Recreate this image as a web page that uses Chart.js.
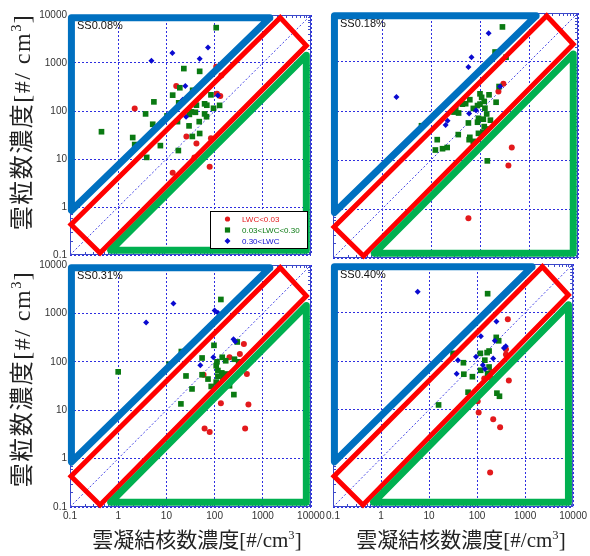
<!DOCTYPE html>
<html>
<head>
<meta charset="utf-8">
<script src="https://cdn.jsdelivr.net/npm/chart.js@4.4.1/dist/chart.umd.min.js"></script>
<style>
body { margin: 0; background: #fff; width: 590px; height: 556px; position: relative; overflow: hidden; }
canvas { position: absolute; }
.yt, .xt { position: absolute; white-space: nowrap; color: #222; font-family: "Liberation Serif", "Noto Sans CJK JP", serif; }
.yt { font-size: 24px; letter-spacing: 1.5px; transform: translate(-50%, -50%) rotate(-90deg); }
.xt { font-size: 21px; transform: translate(-50%, -50%); }
sup { font-size: 0.6em; }
</style>
</head>
<body>
<canvas id="c1"></canvas>
<canvas id="c2"></canvas>
<canvas id="c3"></canvas>
<canvas id="c4"></canvas>
<div class="yt" style="left:19px;top:122px">雲粒数濃度[#/ cm<sup>3</sup>]</div>
<div class="yt" style="left:19px;top:379px">雲粒数濃度[#/ cm<sup>3</sup>]</div>
<div class="xt" style="left:197px;top:538px">雲凝結核数濃度[#/cm<sup>3</sup>]</div>
<div class="xt" style="left:461px;top:538px">雲凝結核数濃度[#/cm<sup>3</sup>]</div>
<script>
const tickValues = [0.1, 1, 10, 100, 1000, 10000];
const tickLabels = ['0.1', '1', '10', '100', '1000', '10000'];
const panelLabels = ['SS0.08%', 'SS0.18%', 'SS0.31%', 'SS0.40%'];
const legendLabels = ['LWC<0.03', '0.03<LWC<0.30', '0.30<LWC'];

// [CCN, cloud droplets] per panel and LWC class
const ss008Red = [[2.2,113],[16,330],[108,840],[138,550],[112,229],[131,205],[26,29.5],[42,21],[84,27],[38,10.7],[13.5,5.2],[79,6.9]];
const ss008Green = [[108,5450],[23,765],[49,670],[19,305],[13.5,214],[35,270],[5.5,155],[18,148],[42,132],[62,141],[69,132],[84,217],[127,131],[95,114],[3.7,87],[10.3,79],[33,96],[40,94],[30,85],[62,87],[68,76],[17,60],[48,60],[5.2,53],[29.5,49],[49,34],[34.5,29.5],[2.0,28],[2.2,20],[7.5,19],[17.7,15],[3.9,10.8],[0.45,37]];
const ss008Blue = [[4.9,1120],[13.3,1610],[49,1230],[73,2100],[24.7,331],[21.8,171],[25.6,76],[117,210]];

const ss018Red = [[300,360],[238,251],[445,18],[380,7.7],[58,0.65]];
const ss018Green = [[287,5200],[203,1600],[340,1250],[245,316],[100,224],[153,214],[108,190],[122,157],[62,170],[51,141],[43.6,138],[73,113],[89,129],[100,138],[126,114],[213,151],[32,109],[36.6,91],[29.4,95],[137,87],[93,71],[89,59],[117,68],[163,65],[58,57],[122,48],[137,43],[117,37],[93,35],[36,33],[62,29],[60,26],[73,24],[13.4,26],[12.3,16],[17.2,17],[21.4,18],[141,9.6],[6.4,50]];
const ss018Blue = [[150,3850],[67,1250],[58,790],[1.97,192],[257,316],[60,89],[83,103],[21.8,63],[19.9,52]];

const ss031Red = [[405,234],[334,145],[204,124],[467,56],[503,13.1],[135,14],[62,4.2],[79,3.55],[430,4.2],[59,54]];
const ss031Green = [[135,1940],[1.0,62],[97,219],[295,257],[20.4,163],[11.4,89],[55,120],[112,100],[144,124],[170,105],[258,113],[316,100],[108,83],[117,66],[141,59],[174,56],[149,48],[117,50],[25.5,51],[55,54],[73,44],[108,38],[85,31],[34,27.5],[251,21],[20,13.5],[204,32]];
const ss031Blue = [[14,1600],[3.8,645],[100,1150],[117,1030],[247,294],[268,264],[94,124],[50.5,85]];

const ss040Red = [[437,730],[400,177],[400,137],[459,40],[141,44],[187,46],[195,60],[103,15],[108,8.8],[217,6.4],[302,4.4],[187,0.51]];
const ss040Green = [[166,2450],[251,309],[282,263],[117,145],[162,150],[178,162],[145,105],[52,93],[178,76],[119,65],[166,56],[53,54],[80,48],[65,23],[259,22],[293,19],[15.8,12.6],[31.6,145]];
const ss040Blue = [[5.8,2700],[253,653],[120,326],[234,263],[396,204],[363,186],[95,123],[217,114],[40,105],[132,84],[146,69],[37.6,55]];

// overlay zones, in data units (first edge repeated so every corner gets a join)
const blueZone = [[0.107,8800],[1400,8800],[0.107,0.85],[0.107,8800],[1400,8800]];
const redBand = [[0.105,0.43],[2300,8800],[8000,2300],[0.42,0.11],[0.105,0.43],[2300,8800]];
const greenZone = [[0.7,0.125],[8000,0.125],[8000,1450],[0.7,0.125],[8000,0.125]];
const oneToOne = [[0.1,0.1],[10000,10000]];

const RED = '#e3191c', GREEN = '#0a7a12', BLUE = '#0a0ad0';

const toXY = arr => arr.map(p => ({x: p[0], y: p[1]}));

const deco = {
  id: 'deco',
  beforeDatasetsDraw(chart) {
    const {ctx, chartArea: a, scales: {x, y}} = chart;
    ctx.save();
    ctx.strokeStyle = '#3b48c9';
    ctx.lineWidth = 1;
    ctx.strokeRect(a.left + 0.5, a.top + 0.5, a.right - a.left - 1, a.bottom - a.top - 1);
    ctx.beginPath();
    for (let k = -1; k < 4; k++) {
      for (let d = 2; d < 10; d++) {
        const v = d * Math.pow(10, k);
        const px = Math.round(x.getPixelForValue(v)) + 0.5;
        const py = Math.round(y.getPixelForValue(v)) + 0.5;
        ctx.moveTo(px, a.bottom); ctx.lineTo(px, a.bottom - 3);
        ctx.moveTo(px, a.top); ctx.lineTo(px, a.top + 3);
        ctx.moveTo(a.left, py); ctx.lineTo(a.left + 3, py);
        ctx.moveTo(a.right, py); ctx.lineTo(a.right - 3, py);
      }
    }
    ctx.stroke();
    ctx.restore();
  },
  afterDatasetsDraw(chart, args, o) {
    const {ctx, chartArea: a} = chart;
    ctx.save();
    ctx.font = '11px "Liberation Sans", Arial, sans-serif';
    ctx.fillStyle = '#111';
    ctx.textBaseline = 'middle';
    ctx.fillText(o.label, a.left + 7, a.top + 11);
    if (o.legend) {
      const bx = a.right - 101, by = a.bottom - 44, bw = 97, bh = 37;
      ctx.fillStyle = '#fff';
      ctx.fillRect(bx, by, bw, bh);
      ctx.strokeStyle = '#000';
      ctx.lineWidth = 1;
      ctx.strokeRect(bx + 0.5, by + 0.5, bw, bh);
      const cols = [RED, GREEN, BLUE];
      ctx.font = '8px "Liberation Sans", Arial, sans-serif';
      legendLabels.forEach((t, i) => {
        const my = by + 8 + i * 11, mx = bx + 17.5;
        ctx.fillStyle = cols[i];
        ctx.beginPath();
        if (i === 0) ctx.arc(mx, my, 2.6, 0, Math.PI * 2);
        else if (i === 1) ctx.rect(mx - 2.6, my - 2.6, 5.2, 5.2);
        else { ctx.moveTo(mx, my - 3); ctx.lineTo(mx + 3, my); ctx.lineTo(mx, my + 3); ctx.lineTo(mx - 3, my); ctx.closePath(); }
        ctx.fill();
        ctx.fillText(t, bx + 32, my + 0.5);
      });
    }
    ctx.restore();
  }
};

function zone(data, color, width, join) {
  return {type: 'line', data: toXY(data), showLine: true, borderColor: color, borderWidth: width,
          borderJoinStyle: join, borderCapStyle: 'round', pointRadius: 0, fill: false, tension: 0, clip: false, order: 1};
}

function makePanel(p) {
  const cv = document.getElementById(p.id);
  cv.width = p.w; cv.height = p.h;
  cv.style.left = p.l + 'px'; cv.style.top = p.t + 'px';
  const axis = (showLabels, fitFn) => ({
    type: 'logarithmic', min: 0.1, max: 10000,
    afterBuildTicks: s => { s.ticks = tickValues.map(v => ({value: v})); },
    afterFit: fitFn,
    ticks: {display: showLabels, autoSkip: false, maxRotation: 0, padding: 3, color: '#333',
            font: {size: 10}, callback: v => tickLabels[tickValues.indexOf(v)]},
    grid: {color: '#2e2ee0', lineWidth: 1, drawTicks: false},
    border: {display: false, dash: [2, 2]}
  });
  new Chart(cv, {
    type: 'scatter',
    data: {
      datasets: [
        zone(blueZone, '#0070c0', 7, 'round'),
        zone(greenZone, '#00b050', 7, 'round'),
        zone(redBand, '#ff0000', 5, 'miter'),
        {data: toXY(p.blue), pointStyle: 'rectRot', pointRadius: 3, backgroundColor: BLUE, borderWidth: 0, order: 2},
        {data: toXY(p.green), pointStyle: 'rect', pointRadius: 4, backgroundColor: GREEN, borderWidth: 0, order: 3},
        {data: toXY(p.red), pointStyle: 'circle', pointRadius: 3, backgroundColor: RED, borderWidth: 0, order: 4},
        {type: 'line', data: toXY(oneToOne), showLine: true, borderColor: '#4545e6', borderWidth: 1,
         borderDash: [2, 2], pointRadius: 0, fill: false, order: 5}
      ]
    },
    options: {
      responsive: false,
      animation: false,
      devicePixelRatio: 1,
      layout: {padding: {top: p.padTop, right: p.padRight, left: 0, bottom: 0}},
      scales: {
        x: axis(p.xLabels, s => { s.height = p.xH; }),
        y: axis(p.yLabels, s => { s.width = p.yW; })
      },
      plugins: {
        legend: {display: false},
        tooltip: {enabled: false},
        deco: {label: p.label, legend: p.legend}
      }
    },
    plugins: [deco]
  });
}

Chart.defaults.font.family = '"Liberation Sans", Arial, sans-serif';

makePanel({id: 'c1', l: 0, t: 0, w: 330, h: 264, padTop: 15, padRight: 19, yW: 70, xH: 9,
  xLabels: false, yLabels: true, legend: true, label: panelLabels[0], red: ss008Red, green: ss008Green, blue: ss008Blue});
makePanel({id: 'c2', l: 318, t: 0, w: 272, h: 268, padTop: 13, padRight: 12, yW: 15, xH: 10,
  xLabels: false, yLabels: false, legend: false, label: panelLabels[1], red: ss018Red, green: ss018Green, blue: ss018Blue});
makePanel({id: 'c3', l: 0, t: 256, w: 330, h: 270, padTop: 8, padRight: 19, yW: 70, xH: 19,
  xLabels: true, yLabels: true, legend: false, label: panelLabels[2], red: ss031Red, green: ss031Green, blue: ss031Blue});
makePanel({id: 'c4', l: 318, t: 256, w: 272, h: 270, padTop: 8, padRight: 12, yW: 15, xH: 19,
  xLabels: true, yLabels: false, legend: false, label: panelLabels[3], red: ss040Red, green: ss040Green, blue: ss040Blue});
</script>
</body>
</html>
